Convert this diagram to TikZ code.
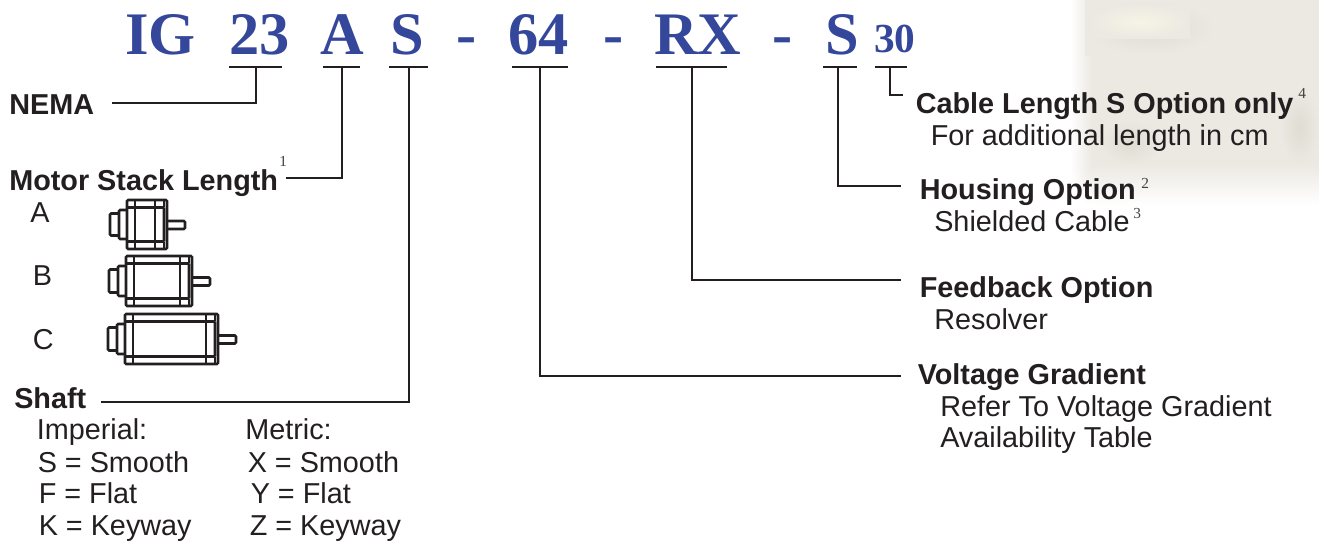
\documentclass[tikz,border=0pt]{standalone}
\usepackage{fontspec}
\setmainfont{Liberation Sans}
\newfontfamily\titlefont{Liberation Serif}
\definecolor{ink}{HTML}{231F20}
\definecolor{brandblue}{HTML}{34479B}
\definecolor{wash}{HTML}{ECE9E3}
\definecolor{washdark}{HTML}{DFDCD2}
\definecolor{washlight}{HTML}{F6F4E4}
\tikzset{
  txt/.style={anchor=base west,inner sep=0pt,text=ink,font=\fontsize{21.6}{25}\selectfont},
  head/.style={txt,font=\fontsize{21.6}{25}\selectfont\bfseries},
  sup/.style={anchor=base west,inner sep=0pt,text=ink!85,font=\fontsize{11.5}{13}\titlefont\selectfont},
  code/.style={anchor=base west,inner sep=0pt,text=brandblue,font=\fontsize{45.3}{50}\titlefont\bfseries\selectfont},
  codesmall/.style={code,font=\fontsize{31}{36}\titlefont\bfseries\selectfont},
  rule/.style={draw=ink,line width=2pt},
  lead/.style={draw=ink,line width=1.8pt},
  motorline/.style={draw=ink,line width=1.9pt,rounded corners=0.8pt},
  blur/.style={inner color=#1,outer color=wash,draw=none},
}
% #1 left of body, #2 top of body, #3 body width, #4 body height
\newcommand{\motorshape}[4]{%
  \draw[motorline] (#1,#2) rectangle ++(#3,#4);
  \draw[motorline] (#1,#2+7.5) -- ++(#3-3,0) -- ++(0,#4-15) -- ++(-#3+3,0);
  \draw[motorline] (#1+8,#2) -- ++(0,#4);
  \draw[motorline] (#1+#3-12,#2) -- ++(0,#4);
  \draw[motorline] (#1+#3-3,#2) -- ++(0,7) (#1+#3-3,#2+#4-7) -- ++(0,7);
  \draw[motorline] (#1,#2+10) -- ++(-8,0) -- ++(0,#4-20) -- ++(8,0);
  \draw[motorline] (#1-8,#2+13.5) -- ++(-9,0) -- ++(0,#4-27) -- ++(9,0);
  \draw[motorline] (#1+#3,#2+#4/2-3.5) -- ++(18,0) -- ++(0,8) -- ++(-18,0);
}
\begin{document}
\begin{tikzpicture}[x=0.75pt,y=-0.75pt]
\useasboundingbox (0,0) rectangle (1319,544);
% background wash
\fill[wash] (1092,0) rectangle (1319,165);
\shade[left color=white,right color=wash] (1070,0) rectangle (1092.3,165.3);
\shade[top color=wash,bottom color=white] (1092,165) rectangle (1319,205);
\begin{scope}
  \clip (1070,165) rectangle (1092.3,205);
  \shade[inner color=wash,outer color=white] (1070,125) rectangle (1114,205);
\end{scope}
\shade[blur=washdark] (1085,0) rectangle (1215,55);
\shade[blur=washlight] (1090,5) rectangle (1190,38);
\shade[blur=washdark] (1280,90) rectangle (1319,165);
\shade[blur=washdark] (1100,120) rectangle (1160,165);
% part number
\node[code] (cIG) at (125,54) {IG};
\node[code] (c23) at (229,54) {23};
\node[code] (cA) at (320,54) {A};
\node[code] (cS) at (390,54) {S};
\node[code] (d1) at (456,54) {-};
\node[code] (c64) at (508,54) {64};
\node[code] (d2) at (603,54) {-};
\node[code] (cRX) at (654,54) {RX};
\node[code] (d3) at (772,54) {-};
\node[code] (cH) at (825,54) {S};
\node[codesmall] (c30) at (874,52) {30};
% underlines
\draw[rule] (229,67) -- (282,67);
\draw[rule] (323,67) -- (360,67);
\draw[rule] (389,67) -- (428,67);
\draw[rule] (512,67) -- (568,67);
\draw[rule] (656,67) -- (727,67);
\draw[rule] (823,67) -- (857,67);
\draw[rule] (875,67) -- (907,67);
\coordinate (u23) at (256,67);
\coordinate (uA) at (342,67);
\coordinate (uS) at (409,67);
\coordinate (u64) at (540,67);
\coordinate (uRX) at (692,67);
\coordinate (uH) at (838,67);
\coordinate (u30) at (890,67);
% left labels
\node[head] (nema) at (9,114) {NEMA};
\node[head] (stack) at (9,190.5) {Motor Stack Length};
\node[sup] (s1) at (279,166) {1};
\node[txt] (la) at (30,222.5) {A};
\node[txt] (lb) at (32.5,285.5) {B};
\node[txt] (lc) at (32.5,349.5) {C};
\node[head] (shaft) at (14,408) {Shaft};
\node[txt] at (36.5,439) (imp) {Imperial:};
\node[txt] at (37.5,472) (i1) {S = Smooth};
\node[txt] at (38.5,503) (i2) {F = Flat};
\node[txt] at (38.5,535) (i3) {K = Keyway};
\node[txt] at (245,439) (met) {Metric:};
\node[txt] at (247.5,472) (m1) {X = Smooth};
\node[txt] at (250.5,503) (m2) {Y = Flat};
\node[txt] at (249.5,535) (m3) {Z = Keyway};
% right labels
\node[head] (cable) at (915.5,113) {Cable Length S Option only};
\node[sup] (s4) at (1298,98) {4};
\node[txt] (cable2) at (930.5,145) {For additional length in cm};
\node[head] (house) at (919.5,199) {Housing Option};
\node[sup] (s2) at (1141,188) {2};
\node[txt] (house2) at (934,231) {Shielded Cable};
\node[sup] (s3) at (1133,218) {3};
\node[head] (feed) at (919.5,297) {Feedback Option};
\node[txt] (feed2) at (934,329) {Resolver};
\node[head] (volt) at (917.5,384) {Voltage Gradient};
\node[txt] (volt2) at (940,416) {Refer To Voltage Gradient};
\node[txt] (volt3) at (940,447) {Availability Table};
% connector free ends
\coordinate (eNema) at (112,103);
\coordinate (eStack) at (286,178);
\coordinate (eShaft) at (101,402);
\coordinate (eVolt) at (901,376);
\coordinate (eFeed) at (901,280);
\coordinate (eHouse) at (901,186);
\coordinate (eCable) at (903,95);
\draw[lead] (eNema) -| (u23);
\draw[lead] (eStack) -| (uA);
\draw[lead] (eShaft) -| (uS);
\draw[lead] (u64) |- (eVolt);
\draw[lead] (uRX) |- (eFeed);
\draw[lead] (uH) |- (eHouse);
\draw[lead] (u30) |- (eCable);
% motors
\motorshape{127}{200}{40}{49}
\motorshape{126}{256}{66}{50}
\motorshape{125}{314}{93}{50}
\end{tikzpicture}
\end{document}
